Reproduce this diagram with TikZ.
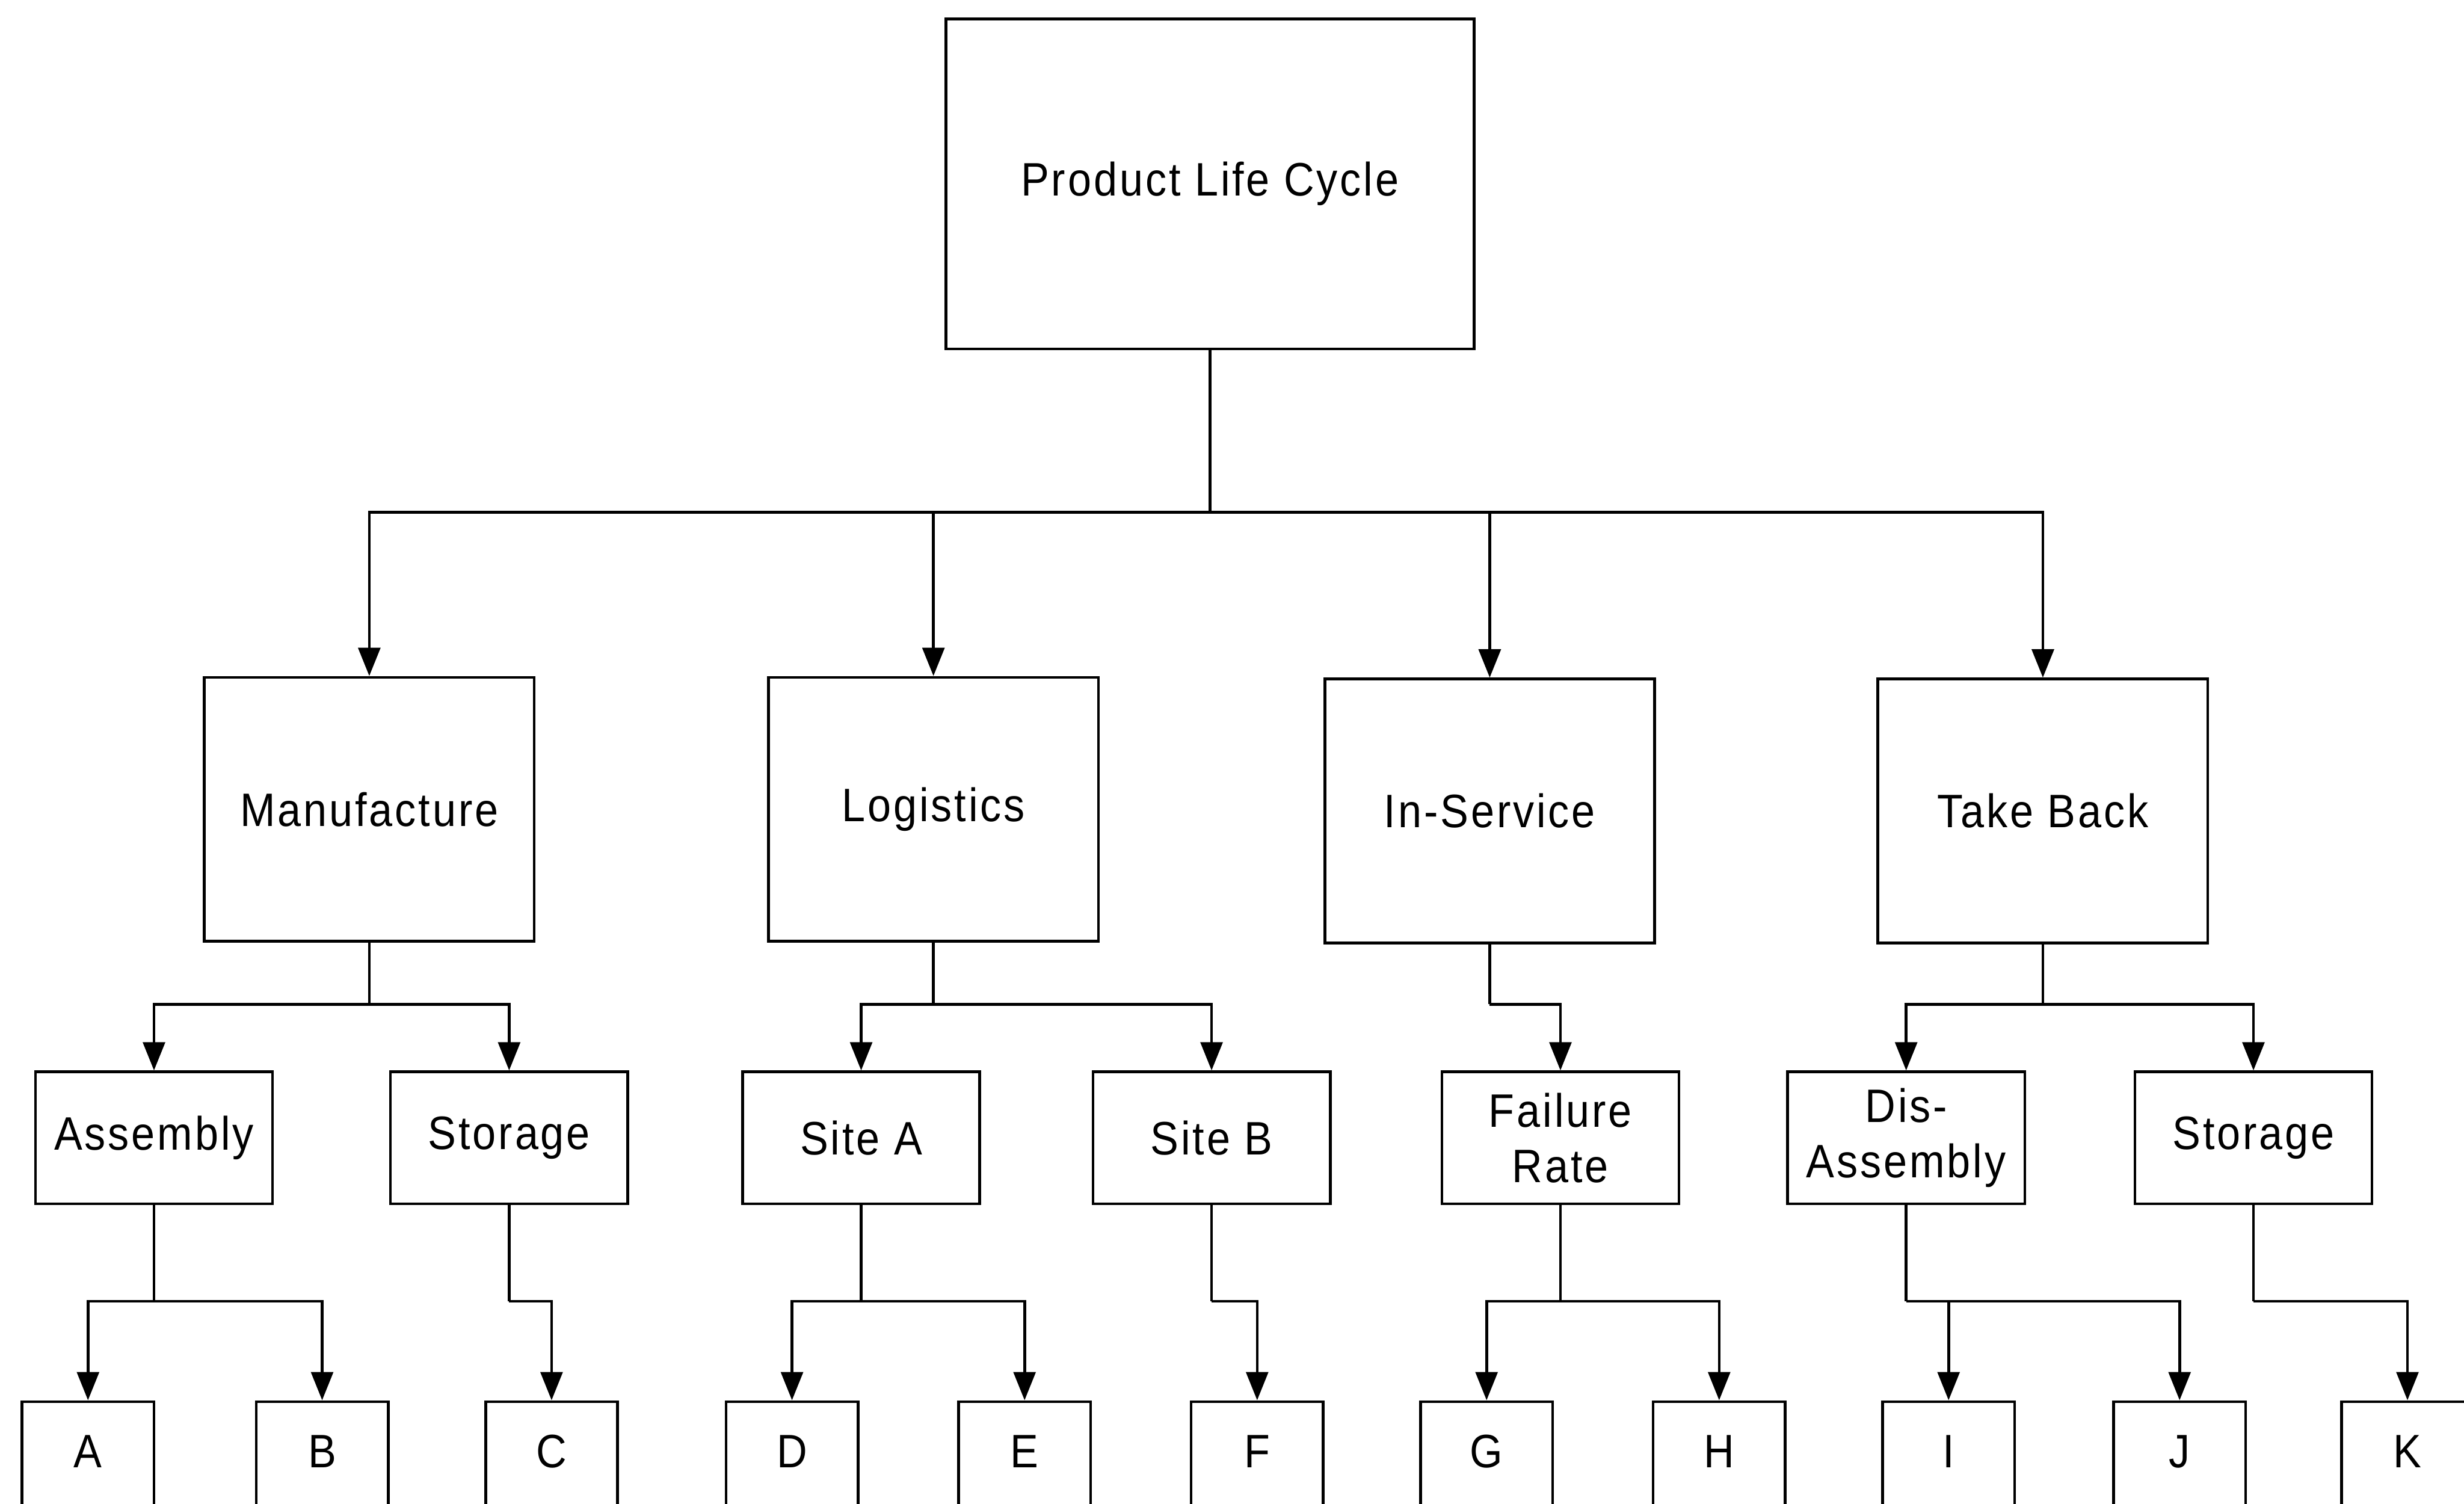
\documentclass[tikz,border=0pt]{standalone}
\usepackage{fontspec}
\setmainfont{Liberation Sans}[FakeStretch=0.9,LetterSpace=5]
\usetikzlibrary{arrows.meta}

\begin{document}
\begin{tikzpicture}[x=0.02cm, y=-0.02cm, line width=1pt,
		main/.style = {draw, rectangle, inner sep=0pt, align=center, font=\fontsize{17}{20}\selectfont},
		top/.style = {main, minimum width=6.72cm, minimum height=4.2cm},
		stage/.style = {main, minimum width=4.2cm, minimum height=3.36cm},
		task/.style = {main, minimum width=3.02cm, minimum height=1.68cm},
		leaf/.style = {main, anchor=north, minimum width=1.68cm, text height=0.84cm, text depth=1.6cm},
		arr/.style = {-{Triangle[length=0.36cm, width=0.28cm]}}]
	\clip (0,0) rectangle (1568,957);
	% top
	\node[top] (plc) at (770,117) {Product Life Cycle};
	% stages
	\node[stage] (man) at (235,515) {Manufacture};
	\node[stage] (log) at (594,515) {Logistics};
	\node[stage] (ins) at (948,516) {In-Service};
	\node[stage] (tak) at (1300,516) {Take Back};
	% tasks
	\node[task] (asm) at (98,724) {Assembly};
	\node[task] (sto) at (324,724) {Storage};
	\node[task] (sia) at (548,724) {Site A};
	\node[task] (sib) at (771,724) {Site B};
	\node[task] (fai) at (993,724) {Failure\\Rate};
	\node[task] (dis) at (1213,724) {Dis-\\Assembly};
	\node[task] (sto2) at (1434,724) {Storage};
	% leaves
	\node[leaf] (a) at (56,891) {A};
	\node[leaf] (b) at (205,891) {B};
	\node[leaf] (c) at (351,891) {C};
	\node[leaf] (d) at (504,891) {D};
	\node[leaf] (e) at (652,891) {E};
	\node[leaf] (f) at (800,891) {F};
	\node[leaf] (g) at (946,891) {G};
	\node[leaf] (h) at (1094,891) {H};
	\node[leaf] (i) at (1240,891) {I};
	\node[leaf] (j) at (1387,891) {J};
	\node[leaf] (k) at (1532,891) {K};
	% bus points
	\coordinate (b0) at (770,326);
	\coordinate (b1) at (235,639);
	\coordinate (b2) at (594,639);
	\coordinate (b3) at (948,639);
	\coordinate (b4) at (1300,639);
	\coordinate (b5) at (98,828);
	\coordinate (b6) at (324,828);
	\coordinate (b7) at (548,828);
	\coordinate (b8) at (771,828);
	\coordinate (b9) at (993,828);
	\coordinate (b10) at (1213,828);
	\coordinate (b11) at (1434,828);
	% connectors
	\draw (plc.south) -- (b0);
	\foreach \n in {man,log,ins,tak}
		\draw[arr] (b0) -| (\n.north);
	\draw (man.south) -- (b1);
	\draw[arr] (b1) -| (asm.north);
	\draw[arr] (b1) -| (sto.north);
	\draw (log.south) -- (b2);
	\draw[arr] (b2) -| (sia.north);
	\draw[arr] (b2) -| (sib.north);
	\draw (ins.south) -- (b3);
	\draw[arr] (b3) -| (fai.north);
	\draw (tak.south) -- (b4);
	\draw[arr] (b4) -| (dis.north);
	\draw[arr] (b4) -| (sto2.north);
	\draw (asm.south) -- (b5);
	\draw[arr] (b5) -| (a.north);
	\draw[arr] (b5) -| (b.north);
	\draw (sto.south) -- (b6);
	\draw[arr] (b6) -| (c.north);
	\draw (sia.south) -- (b7);
	\draw[arr] (b7) -| (d.north);
	\draw[arr] (b7) -| (e.north);
	\draw (sib.south) -- (b8);
	\draw[arr] (b8) -| (f.north);
	\draw (fai.south) -- (b9);
	\draw[arr] (b9) -| (g.north);
	\draw[arr] (b9) -| (h.north);
	\draw (dis.south) -- (b10);
	\draw[arr] (b10) -| (i.north);
	\draw[arr] (b10) -| (j.north);
	\draw (sto2.south) -- (b11);
	\draw[arr] (b11) -| (k.north);
\end{tikzpicture}
\end{document}
